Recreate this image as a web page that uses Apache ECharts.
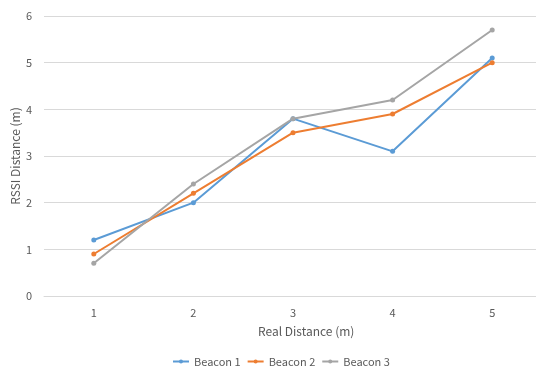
<!DOCTYPE html>
<html><head><meta charset="utf-8">
<script src="https://cdn.jsdelivr.net/npm/echarts@6/dist/echarts.min.js"></script>
<style>html,body{margin:0;padding:0;background:#fff}#c{width:536px;height:371px}</style>
</head><body><div id="c"></div>
<script>
const categories = ['1','2','3','4','5'];
const beacon1 = [1.2, 2.0, 3.8, 3.1, 5.1];
const beacon2 = [0.9, 2.2, 3.5, 3.9, 5.0];
const beacon3 = [0.7, 2.4, 3.8, 4.2, 5.7];
const seriesNames = ['Beacon 1','Beacon 2','Beacon 3'];
const colors = ['#5B9BD5','#ED7D31','#A5A5A5'];
const font = '"Noto Sans CJK KR", "Open Sans", sans-serif';
const chart = echarts.init(document.getElementById('c'), null, {renderer:'canvas'});
const mk = (name, data, color) => ({
  name, type:'line', data, color,
  symbol:'circle', symbolSize:5,
  lineStyle:{width:2, color},
  itemStyle:{color},
  animation:false
});
chart.setOption({
  animation:false,
  grid:{left:44, top:16, width:498, height:280, containLabel:false, outerBoundsMode:'none'},
  legend:{
    top:351, left:167, itemWidth:16, itemHeight:5, itemGap:6,
    textStyle:{color:'#595959', fontSize:11, fontFamily:font},
    data:seriesNames
  },
  xAxis:{
    type:'category', data:categories, boundaryGap:true,
    axisLine:{show:true, lineStyle:{color:'#D9D9D9', width:1}},
    axisTick:{show:false},
    axisLabel:{color:'#595959', fontSize:11, fontFamily:font, margin:11}
  },
  yAxis:{
    type:'value', min:0, max:6, interval:1,
    axisLine:{show:false}, axisTick:{show:false},
    axisLabel:{color:'#595959', fontSize:11, fontFamily:font, margin:12},
    splitLine:{lineStyle:{color:'#D9D9D9', width:1}}
  },
  graphic:[{
    type:'text', left:258, top:325,
    style:{text:'Real Distance (m)', fill:'#595959', fontSize:12, fontFamily:font}
  },{
    type:'text', x:15, y:156, rotation:Math.PI/2,
    style:{text:'RSSI Distance (m)', fill:'#595959', fontSize:12, fontFamily:font, align:'center', verticalAlign:'middle'}
  }],
  series:[mk(seriesNames[0], beacon1, colors[0]), mk(seriesNames[1], beacon2, colors[1]), mk(seriesNames[2], beacon3, colors[2])]
});
</script></body></html>
